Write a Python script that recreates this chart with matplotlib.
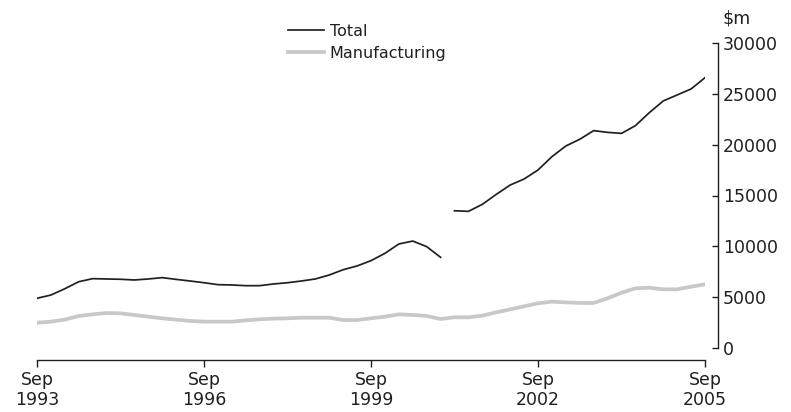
import matplotlib.pyplot as plt
import numpy as np

# quarterly, Sep 1993 - Sep 2005 ($m)
years = [1993, 1996, 1999, 2002, 2005]
total = [4890, 5210, 5830, 6520, 6820, 6790, 6760, 6690, 6790, 6920,
         6750, 6590, 6420, 6230, 6200, 6130, 6130, 6300, 6420, 6590,
         6790, 7180, 7700, 8070, 8590, 9310, 10230, 10520, 9970, 8920,
         13500, 13440, 14130, 15110, 16030, 16620, 17510, 18820, 19870, 20530,
         21380, 21210, 21110, 21870, 23150, 24300, 24890, 25480, 26590]
manufacturing = [2490, 2590, 2790, 3150, 3310, 3440, 3410, 3250, 3080, 2920,
                 2790, 2660, 2590, 2590, 2590, 2720, 2820, 2890, 2920, 2980,
                 2980, 2980, 2750, 2750, 2920, 3080, 3310, 3250, 3150, 2850,
                 3020, 3020, 3180, 3510, 3800, 4100, 4400, 4560, 4490, 4430,
                 4430, 4890, 5440, 5870, 5930, 5770, 5770, 6030, 6260]
series_break = 30  # break in the Total series

q = np.arange(len(total))
ink = '#231f20'

fig = plt.figure(figsize=(7.91, 4.12), dpi=100)
ax = fig.add_axes([37/791, 64/412, 668/791, 305/412])

ax.plot(q, manufacturing, color='#c8c8c8', lw=2.7, label='Manufacturing', zorder=2)
ax.plot(q[:series_break], total[:series_break], color=ink, lw=1.25, label='Total', zorder=3)
ax.plot(q[series_break:], total[series_break:], color=ink, lw=1.25, zorder=3)

ax.set_xlim(0, len(total) - 1)
ax.set_ylim(0, 30000)

for s in ['left', 'top']:
    ax.spines[s].set_visible(False)
ax.spines['right'].set_position(('outward', 9))
ax.spines['bottom'].set_position(('outward', 8.6))
ax.spines['right'].set_bounds(0, 30000)
for s in ['right', 'bottom']:
    ax.spines[s].set_color(ink)
    ax.spines[s].set_linewidth(1.0)

ax.yaxis.tick_right()
ax.set_yticks(range(0, 30001, 5000))
ax.tick_params(axis='y', direction='in', length=4, width=1.0, color=ink,
               labelsize=12.5, labelcolor=ink, pad=4)
ax.set_xticks(q[::12])
ax.set_xticklabels([f'Sep\n{y}' for y in years], linespacing=1.15)
ax.tick_params(axis='x', direction='out', length=5, width=1.0, color=ink,
               labelsize=12.5, labelcolor=ink, pad=3)

fig.text(722/791, 1 - 18/412, '$m', fontsize=12.5, color=ink, va='center', ha='left')

h, l = ax.get_legend_handles_labels()
fig.legend(h[::-1], l[::-1], loc='upper left', bbox_to_anchor=(280/791, 1 - 16/412),
           frameon=False, fontsize=11.5, handlelength=2.25, handletextpad=0.35,
           labelspacing=0.42, borderpad=0, labelcolor=ink)

fig.savefig('out.png', dpi=100)
